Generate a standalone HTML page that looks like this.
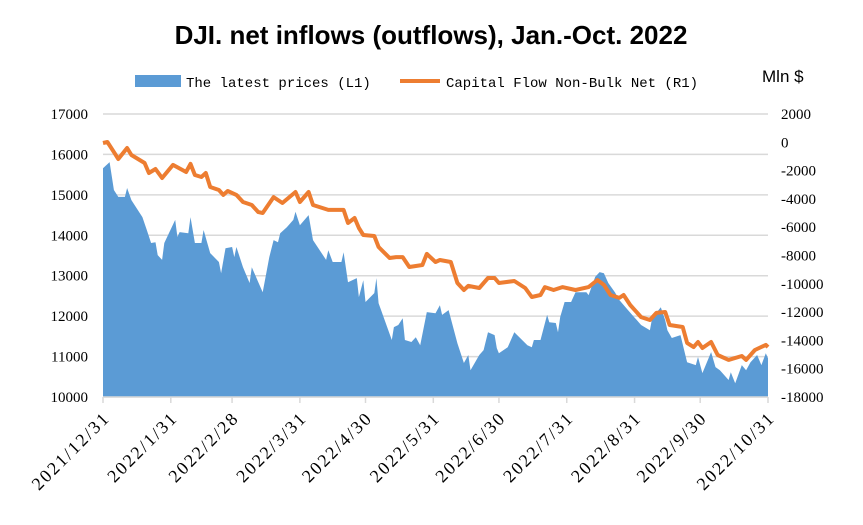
<!DOCTYPE html>
<html><head><meta charset="utf-8"><style>
body{margin:0;background:#fff;}
svg text{font-family:"Liberation Serif","Noto Serif CJK SC",serif;}
</style></head><body>
<svg id="chart" width="863" height="520" xmlns="http://www.w3.org/2000/svg">
<text x="431" y="44" text-anchor="middle" style="font-family:'Liberation Sans',sans-serif;font-weight:bold;font-size:26px">DJI. net inflows (outflows), Jan.-Oct. 2022</text>
<g>
<rect x="135" y="75" width="46" height="12" fill="#5b9bd5"/>
<text x="186" y="87" style="font-family:'Liberation Mono',monospace;font-size:14px">The latest prices (L1)</text>
<line x1="400" y1="81" x2="440" y2="81" stroke="#ed7d31" stroke-width="4"/>
<text x="446" y="87" style="font-family:'Liberation Mono',monospace;font-size:14px">Capital Flow Non-Bulk Net (R1)</text>
</g>
<text x="762" y="82" style="font-family:'Liberation Sans',sans-serif;font-size:17px">Mln $</text>
<g id="grid"></g><g id="area"></g><g id="line"></g><g id="axes"></g>
</svg>
<script>
const NS="http://www.w3.org/2000/svg";
const leftTicks=[10000,11000,12000,13000,14000,15000,16000,17000];
const rightTicks=[2000,0,-2000,-4000,-6000,-8000,-10000,-12000,-14000,-16000,-18000];
const xTickDays=[0,31,59,90,120,151,181,212,243,273,304];
const xTickLabels=["2021/12/31","2022/1/31","2022/2/28","2022/3/31","2022/4/30","2022/5/31","2022/6/30","2022/7/31","2022/8/31","2022/9/30","2022/10/31"];
const priceDays=[0,3,5,7,10,11,13,18,20,22,24,25,27,28,33,34,35,39,40,42,45,46,49,53,54,56,59,60,61,64,67,68,71,73,76,78,80,81,84,87,88,90,94,96,102,103,105,109,110,112,116,117,119,120,124,125,126,132,133,135,137,138,141,143,145,148,152,154,155,158,162,165,167,168,172,174,176,179,180,181,185,188,194,196,197,200,203,204,207,208,209,211,214,216,221,222,225,227,229,231,234,236,240,246,250,251,255,257,258,260,264,267,271,272,274,278,280,282,286,287,289,292,294,296,299,301,303,304];
const priceVals=[15660,15810,15120,14950,14950,15170,14870,14450,14130,13810,13830,13510,13390,13810,14380,13960,14080,14050,14450,13810,13810,14130,13560,13340,13060,13680,13710,13460,13710,13210,12820,13210,12840,12590,13460,13880,13830,14050,14200,14380,14580,14250,14500,13880,13390,13630,13340,13340,13580,12840,12940,12470,12890,12350,12570,12940,12320,11410,11730,11780,11950,11410,11360,11480,11280,12100,12070,12270,12030,12150,11330,10840,11040,10660,11040,11160,11600,11530,11210,11080,11230,11600,11280,11230,11410,11410,12030,11850,11830,11600,11980,12350,12350,12590,12590,12520,12970,13090,13060,12820,12590,12400,12150,11780,11650,11950,12220,11900,11650,11460,11530,10860,10790,10990,10590,11110,10740,10660,10420,10610,10340,10790,10660,10860,11040,10790,11080,10960];
const flowDays=[0,2,5,7,11,13,19,21,24,27,32,38,40,42,45,47,49,53,55,57,61,64,68,71,73,78,82,88,90,94,96,103,110,112,115,117,119,124,126,131,134,137,140,146,148,152,154,159,162,165,167,172,176,179,181,188,193,196,200,202,206,210,216,222,226,229,232,236,238,241,246,250,253,257,259,265,267,270,272,274,278,281,286,292,294,298,303,304];
const flowVals=[-50,20,-690,-1180,-400,-900,-1460,-2170,-1890,-2520,-1600,-2100,-1530,-2310,-2450,-2170,-3160,-3370,-3720,-3440,-3720,-4220,-4430,-4930,-5000,-3870,-4290,-3510,-4220,-3510,-4430,-4780,-4780,-5700,-5350,-6060,-6550,-6620,-7400,-8180,-8110,-8110,-8810,-8670,-7890,-8460,-8320,-8460,-9940,-10440,-10150,-10300,-9590,-9590,-9940,-9800,-10300,-10930,-10790,-10230,-10440,-10230,-10440,-10230,-9730,-10080,-10790,-11000,-10790,-11500,-12350,-12560,-12060,-11990,-12910,-13050,-14180,-14470,-14110,-14540,-14110,-15030,-15380,-15100,-15380,-14680,-14320,-14470];
const X0=103,X1=768,Y0=397,Y1=114;
const xS=d=>X0+(X1-X0)*d/304;
const yL=v=>Y0-(v-10000)/7000*(Y0-Y1);
const yR=v=>Y0-(v+18000)/20000*(Y0-Y1);
function mk(t,a,p){const e=document.createElementNS(NS,t);for(const k in a)e.setAttribute(k,a[k]);p.appendChild(e);return e;}
const grid=document.getElementById('grid'),axes=document.getElementById('axes');
leftTicks.forEach(v=>{
 const l=mk('line',{x1:X0,x2:X1,y1:yL(v),y2:yL(v),stroke:'#d9d9d9','stroke-width':1.5},grid);
 
 
 const t=mk('text',{x:88,y:yL(v)+5,'text-anchor':'end','font-size':15},axes);t.textContent=v;
 
 
});
rightTicks.forEach(v=>{
 const t=mk('text',{x:781,y:yR(v)+5,'font-size':15},axes);t.textContent=v;
 
 
});
let d='M'+xS(priceDays[0])+','+Y0;
priceDays.forEach((dd,i)=>{d+=' L'+xS(dd).toFixed(1)+','+yL(priceVals[i]).toFixed(1);});
d+=' L'+xS(priceDays[priceDays.length-1])+','+Y0+' Z';
const ar=mk('path',{d:d,fill:'#5b9bd5'},document.getElementById('area'));


const pts=flowDays.map((dd,i)=>xS(dd).toFixed(1)+','+yR(flowVals[i]).toFixed(1)).join(' ');
const ln=mk('polyline',{points:pts,fill:'none',stroke:'#ed7d31','stroke-width':4,'stroke-linejoin':'round'},document.getElementById('line'));


const ax=mk('line',{x1:X0,x2:X1,y1:Y0,y2:Y0,stroke:'#d9d9d9','stroke-width':1.5},axes);


xTickDays.forEach((dd,i)=>{
 const x=xS(dd);
 const tk=mk('line',{x1:x,x2:x,y1:Y0,y2:Y0+6,stroke:'#d9d9d9','stroke-width':1.5},axes);
 
 
 const ex=x+8,ey=Y0+22;
 const t=mk('text',{x:ex,y:ey,'text-anchor':'end','font-size':18,'letter-spacing':2,transform:'rotate(-45 '+ex+' '+ey+')'},axes);
 t.textContent=xTickLabels[i];
 
 
});
</script>
</body></html>
